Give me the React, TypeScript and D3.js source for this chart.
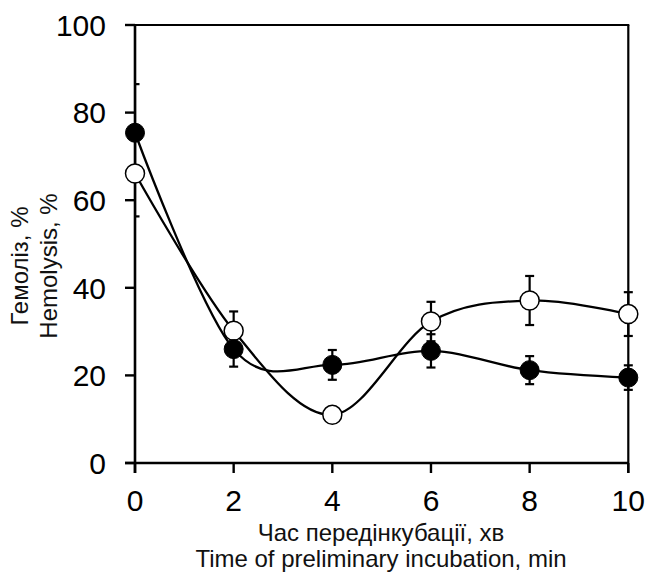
import React from "react";
import * as d3 from "d3";

const xValues = [0, 2, 4, 6, 8, 10];
const filledValues = [75.4, 26.0, 22.4, 25.6, 21.2, 19.5];
const filledErrors = [11.1, 4.0, 3.4, 3.8, 3.2, 2.8];
const openValues = [66.1, 30.2, 11.0, 32.3, 37.1, 34.0];
const openErrors = [9.8, 4.4, 1.5, 4.5, 5.6, 5.0];
const xTicks = [0, 2, 4, 6, 8, 10];
const yTicks = [0, 20, 40, 60, 80, 100];
const xTitle = ["Час передінкубації, хв", "Time of preliminary incubation, min"];
const yTitle = ["Гемоліз, %", "Hemolysis, %"];

const W = 647;
const H = 573;
const left = 135;
const right = 628.3;
const top = 25;
const bottom = 463;
const FONT = "'Liberation Sans', Arial, sans-serif";

export default function App() {
  const x = d3.scaleLinear().domain([0, 10]).range([left, right]);
  const y = d3.scaleLinear().domain([0, 100]).range([bottom, top]);
  const line = d3
    .line<[number, number]>()
    .x((d) => x(d[0]))
    .y((d) => y(d[1]))
    .curve(d3.curveCardinal.tension(0));

  const filled: [number, number][] = xValues.map((v, i) => [v, filledValues[i]]);
  const open: [number, number][] = xValues.map((v, i) => [v, openValues[i]]);
  const r = 9.5;
  const cap = 4.5;

  const errBars = (vals: number[], errs: number[], key: string) =>
    xValues.map((v, i) => {
      const cx = x(v);
      const y1 = y(vals[i] + errs[i]);
      const y2 = y(vals[i] - errs[i]);
      return (
        <g key={key + i} stroke="#000" strokeWidth={2.2}>
          <line x1={cx} x2={cx} y1={y1} y2={y2} />
          <line x1={cx - cap} x2={cx + cap} y1={y1} y2={y1} />
          <line x1={cx - cap} x2={cx + cap} y1={y2} y2={y2} />
        </g>
      );
    });

  return (
    <svg
      width={W}
      height={H}
      style={{ position: "absolute", left: 0, top: 0, background: "#fff" }}
    >
      <defs>
        <clipPath id="clipL">
          <rect x={left} y={0} width={W - left} height={H} />
        </clipPath>
      </defs>
      <rect x={0} y={0} width={W} height={H} fill="#fff" />

      {/* frame: top & right */}
      <line x1={left - 10} x2={right + 1} y1={top} y2={top} stroke="#000" strokeWidth={2.2} />
      <line x1={right} x2={right} y1={top} y2={bottom + 10} stroke="#000" strokeWidth={2.2} />

      {/* axes */}
      <line x1={left} x2={left} y1={top} y2={bottom + 10} stroke="#000" strokeWidth={2.6} />
      <line x1={left - 10} x2={right} y1={bottom} y2={bottom} stroke="#000" strokeWidth={2.6} />
      {yTicks.map((t) => (
        <g key={"yt" + t}>
          <line x1={left - 10} x2={left} y1={y(t)} y2={y(t)} stroke="#000" strokeWidth={2.4} />
          <text
            x={106}
            y={y(t)}
            dy="0.36em"
            textAnchor="end"
            fontFamily={FONT}
            fontSize={30}
            fill="#000"
          >
            {t}
          </text>
        </g>
      ))}
      {xTicks.map((t) => (
        <g key={"xt" + t}>
          <line x1={x(t)} x2={x(t)} y1={bottom} y2={bottom + 10} stroke="#000" strokeWidth={2.4} />
          <text
            x={x(t)}
            y={511}
            textAnchor="middle"
            fontFamily={FONT}
            fontSize={30}
            fill="#000"
          >
            {t}
          </text>
        </g>
      ))}

      {/* titles */}
      {xTitle.map((s, i) => (
        <text
          key={"xtl" + i}
          x={381}
          y={541 + i * 26}
          textAnchor="middle"
          fontFamily={FONT}
          fontSize={24}
          fill="#111"
        >
          {s}
        </text>
      ))}
      {yTitle.map((s, i) => (
        <text
          key={"ytl" + i}
          transform={`translate(${28 + i * 28.5},266) rotate(-90)`}
          textAnchor="middle"
          fontFamily={FONT}
          fontSize={24}
          fill="#111"
        >
          {s}
        </text>
      ))}

      {/* curves */}
      <path d={line(open) || ""} fill="none" stroke="#000" strokeWidth={2.3} />
      <path d={line(filled) || ""} fill="none" stroke="#000" strokeWidth={2.3} />

      {/* error bars */}
      <g clipPath="url(#clipL)">
        {errBars(openValues, openErrors, "eo")}
        {errBars(filledValues, filledErrors, "ef")}
      </g>

      {/* markers */}
      {open.map((d, i) => (
        <circle key={"mo" + i} cx={x(d[0])} cy={y(d[1])} r={r} fill="#fff" stroke="#000" strokeWidth={1.5} />
      ))}
      {filled.map((d, i) => (
        <circle key={"mf" + i} cx={x(d[0])} cy={y(d[1])} r={r} fill="#000" stroke="#000" strokeWidth={1} />
      ))}
    </svg>
  );
}
